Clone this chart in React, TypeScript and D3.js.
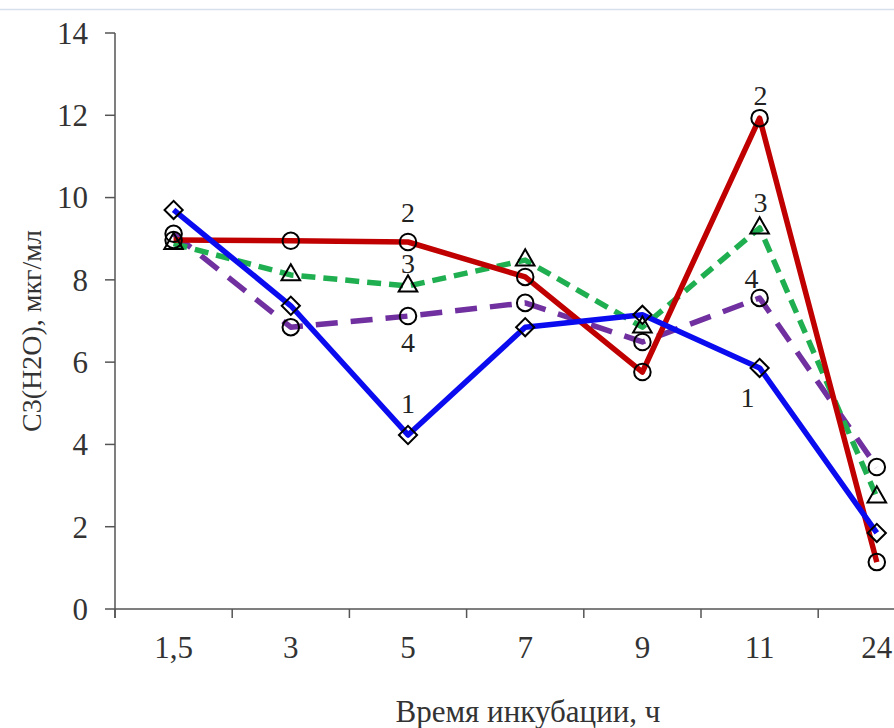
import React, { useRef, useEffect } from "react";
import * as d3 from "d3";

// incubation time (h) and concentration values
const categories = ["1,5", "3", "5", "7", "9", "11", "24"];
const yTicks = [0, 2, 4, 6, 8, 10, 12, 14];
const series1 = [9.7, 7.37, 4.23, 6.85, 7.15, 5.86, 1.85];
const series2 = [8.97, 8.95, 8.92, 8.07, 5.76, 11.93, 1.14];
const series3 = [8.88, 8.12, 7.85, 8.48, 6.85, 9.26, 2.72];
const series4 = [9.12, 6.85, 7.12, 7.44, 6.49, 7.56, 3.45];

const xTitle = "Время инкубации, ч";
const yTitle = "C3(H2O), мкг/мл";

const App = () => {
  const svgRef = useRef<SVGSVGElement>(null);
  const width = 894;
  const height = 728;

  useEffect(() => {
    const margin = { top: 33, left: 115, bottom: 609 };
    const font = "Liberation Serif";

    const x = d3
      .scaleBand()
      .domain(categories)
      .range([margin.left, margin.left + 117.2 * categories.length])
      .padding(0);

    const y = d3.scaleLinear().domain([0, 14]).range([margin.bottom, margin.top]);

    const cx = (i: number) => (x(categories[i]) as number) + x.bandwidth() / 2;

    // draw order: purple, green, red, blue
    const series = [
      { id: 4, values: series4, color: "#7030a0", dash: "22,13", marker: "circle" },
      { id: 3, values: series3, color: "#1faf50", dash: "14,8", marker: "triangle" },
      { id: 2, values: series2, color: "#c00000", dash: null, marker: "circle" },
      { id: 1, values: series1, color: "#0b0bf0", dash: null, marker: "diamond" },
    ];

    const svg = d3.select(svgRef.current);
    svg.selectAll("*").remove();

    // faint line at top of screenshot
    svg
      .append("line")
      .attr("x1", 0)
      .attr("x2", width)
      .attr("y1", 9.5)
      .attr("y2", 9.5)
      .attr("stroke", "#d6e0ea")
      .attr("stroke-width", 1.5);

    // Y axis
    const yAxis = svg.append("g").attr("transform", `translate(${margin.left},0)`);
    yAxis
      .append("line")
      .attr("x1", 0)
      .attr("x2", 0)
      .attr("y1", margin.top)
      .attr("y2", margin.bottom + 9)
      .attr("stroke", "#555")
      .attr("stroke-width", 1.5);
    yAxis
      .selectAll("line.tick")
      .data(yTicks)
      .join("line")
      .attr("class", "tick")
      .attr("x1", -10)
      .attr("x2", 0)
      .attr("y1", (d) => y(d))
      .attr("y2", (d) => y(d))
      .attr("stroke", "#555")
      .attr("stroke-width", 1.5);
    yAxis
      .selectAll("text")
      .data(yTicks)
      .join("text")
      .attr("x", -27)
      .attr("y", (d) => y(d))
      .attr("dy", "0.35em")
      .attr("text-anchor", "end")
      .attr("font-family", font)
      .attr("font-size", 31)
      .attr("fill", "#333")
      .text((d) => d);

    // X axis
    const xAxis = svg.append("g").attr("transform", `translate(0,${margin.bottom})`);
    xAxis
      .append("line")
      .attr("x1", margin.left)
      .attr("x2", width)
      .attr("y1", 0)
      .attr("y2", 0)
      .attr("stroke", "#555")
      .attr("stroke-width", 1.5);
    xAxis
      .selectAll("line.tick")
      .data(categories)
      .join("line")
      .attr("class", "tick")
      .attr("x1", (d) => x(d) as number)
      .attr("x2", (d) => x(d) as number)
      .attr("y1", 0)
      .attr("y2", 9)
      .attr("stroke", "#555")
      .attr("stroke-width", 1.5);
    xAxis
      .selectAll("text")
      .data(categories)
      .join("text")
      .attr("x", (d, i) => cx(i))
      .attr("y", 49)
      .attr("text-anchor", "middle")
      .attr("font-family", font)
      .attr("font-size", 31)
      .attr("fill", "#333")
      .text((d) => d);

    // axis titles
    svg
      .append("text")
      .attr("x", 528)
      .attr("y", 722)
      .attr("text-anchor", "middle")
      .attr("font-family", font)
      .attr("font-size", 31)
      .attr("fill", "#333")
      .text(xTitle);

    svg
      .append("text")
      .attr("transform", `translate(41,331) rotate(-90)`)
      .attr("text-anchor", "middle")
      .attr("font-family", font)
      .attr("font-size", 28)
      .attr("fill", "#333")
      .text(yTitle);

    // lines
    const line = d3
      .line<number>()
      .x((d, i) => cx(i))
      .y((d) => y(d));

    series.forEach((s) => {
      svg
        .append("path")
        .datum(s.values)
        .attr("fill", "none")
        .attr("stroke", s.color)
        .attr("stroke-width", 5.5)
        .attr("stroke-linejoin", "round")
        .attr("stroke-dasharray", s.dash)
        .attr("d", line);
    });

    // markers
    const symbols: Record<string, string> = {
      circle: d3.symbol().type(d3.symbolCircle).size(215)() as string,
      triangle: d3.symbol().type(d3.symbolTriangle).size(150)() as string,
      diamond: d3.symbol().type(d3.symbolSquare).size(165)() as string,
    };

    series.forEach((s) => {
      svg
        .append("g")
        .selectAll("path")
        .data(s.values)
        .join("path")
        .attr("d", symbols[s.marker])
        .attr(
          "transform",
          (d, i) =>
            `translate(${cx(i)},${y(d)})` + (s.marker === "diamond" ? " rotate(45)" : "")
        )
        .attr("fill", "none")
        .attr("stroke", "#000")
        .attr("stroke-width", 2);
    });

    // curve numbers next to points
    const labels = [
      { text: "2", i: 2, values: series2, dx: 0, dy: -30 },
      { text: "3", i: 2, values: series3, dx: 0, dy: -23 },
      { text: "4", i: 2, values: series4, dx: 0, dy: 26 },
      { text: "1", i: 2, values: series1, dx: 0, dy: -32 },
      { text: "2", i: 5, values: series2, dx: 1, dy: -23 },
      { text: "3", i: 5, values: series3, dx: 1, dy: -26 },
      { text: "4", i: 5, values: series4, dx: -8, dy: -20 },
      { text: "1", i: 5, values: series1, dx: -12, dy: 29 },
    ];

    svg
      .append("g")
      .selectAll("text")
      .data(labels)
      .join("text")
      .attr("x", (d) => cx(d.i) + d.dx)
      .attr("y", (d) => y(d.values[d.i]) + d.dy)
      .attr("dy", "0.35em")
      .attr("text-anchor", "middle")
      .attr("font-family", font)
      .attr("font-size", 28)
      .attr("fill", "#222")
      .text((d) => d.text);
  }, []);

  return (
    <svg
      ref={svgRef}
      width={width}
      height={height}
      style={{ position: "absolute", left: 0, top: 0, background: "#fff" }}
    ></svg>
  );
};

export default App;
